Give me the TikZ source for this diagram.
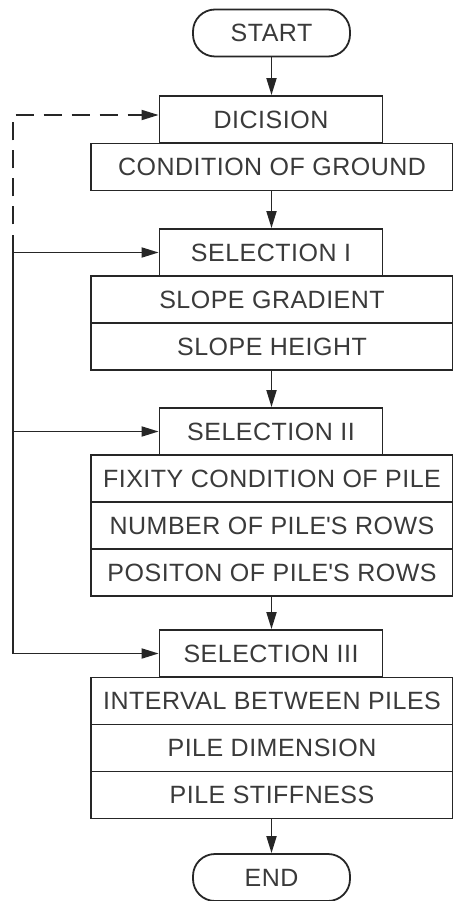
\documentclass[tikz,border=0pt]{standalone}
\usepackage{fontspec}
\setmainfont[LetterSpace=2]{Liberation Sans}
\usetikzlibrary{arrows.meta}
\definecolor{ink}{HTML}{262626}
\definecolor{txt}{HTML}{3A3A3A}
\begin{document}
\begin{tikzpicture}[x=1pt,y=-1pt,
  box/.style={draw=ink, line width=1.8pt, fill=white, inner sep=0pt,
    minimum width=223pt, minimum height=47pt,
    font=\fontsize{25}{30}\selectfont, text=txt},
  wide/.style={box, minimum width=362pt},
  term/.style={box, minimum width=157pt, rounded corners=22pt},
  link/.style={draw=ink, line width=1.8pt},
  flow/.style={link, -{Triangle[length=17pt,width=10pt]}},
  ]
\useasboundingbox (0,0) rectangle (452,901);

% main column
\node[term] (start) at (271.5,33)  {START};
\node[box]  (dec)   at (271,119.5) {DICISION};
\node[wide] (ground) at (272,167)  {CONDITION OF GROUND};
\node[box]  (sel1)  at (271,252.5) {SELECTION I};
\node[wide] (grad)  at (272,299.5) {SLOPE GRADIENT};
\node[wide] (hgt)   at (272,346.5) {SLOPE HEIGHT};
\node[box]  (sel2)  at (271,431.5) {SELECTION II};
\node[wide] (fix)   at (272,478.5) {FIXITY CONDITION OF PILE};
\node[wide] (num)   at (272,525.5) {NUMBER OF PILE\textquotesingle S ROWS};
\node[wide] (pos)   at (272,572.5) {POSITON OF PILE\textquotesingle S ROWS};
\node[box]  (sel3)  at (271,653.5) {SELECTION III};
\node[wide] (intv)  at (272,701)   {INTERVAL BETWEEN PILES};
\node[wide] (dim)   at (272,748)   {PILE DIMENSION};
\node[wide] (stiff) at (272,795)   {PILE STIFFNESS};
\node[term] (stop)  at (271.5,877.5) {END};

% downward flow
\draw[flow] (start.south) -- (start.south |- dec.north);
\draw[flow] (ground.south -| start.south) -- (start.south |- sel1.north);
\draw[flow] (hgt.south -| start.south) -- (start.south |- sel2.north);
\draw[flow] (pos.south -| start.south) -- (start.south |- sel3.north);
\draw[flow] (stiff.south -| start.south) -- (stop.north);

% feedback rail on the left
\coordinate (rail) at (13,0);
\draw[link] (rail |- sel3.west) -- (rail |- sel1.west);
\draw[flow] (rail |- sel1.west) -- (sel1.west);
\draw[flow] (rail |- sel2.west) -- (sel2.west);
\draw[flow] (rail |- sel3.west) -- (sel3.west);
\draw[flow, dash pattern=on 18pt off 10pt]
  (rail |- sel1.west) -- ([yshift=4.5pt]rail |- dec.west) -- ([yshift=4.5pt]dec.west);
\end{tikzpicture}
\end{document}
